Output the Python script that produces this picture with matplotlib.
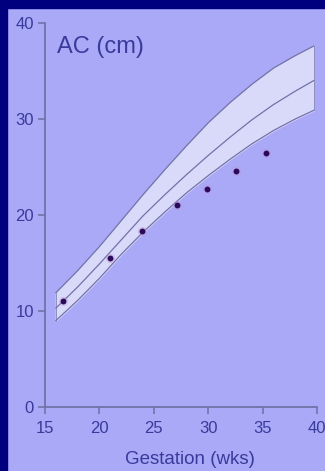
import matplotlib.pyplot as plt
from matplotlib.patches import Rectangle

# reference curve (weeks of gestation)
weeks = [16, 18, 20, 22, 24, 26, 28, 30, 32, 34, 36, 38, 39.7]
upper = [11.9, 14.2, 16.7, 19.4, 22.1, 24.7, 27.2, 29.6, 31.7, 33.6, 35.3, 36.6, 37.6]
mean = [10.3, 12.5, 14.9, 17.4, 19.9, 22.1, 24.2, 26.2, 28.1, 29.9, 31.5, 32.9, 34.0]
lower = [9.0, 11.1, 13.4, 15.9, 18.2, 20.3, 22.3, 24.1, 25.8, 27.4, 28.8, 30.0, 30.9]

# measured points
ga = [16.7, 21.0, 23.9, 27.1, 29.9, 32.6, 35.3]
ac = [11.0, 15.5, 18.3, 21.0, 22.7, 24.6, 26.5]

bg = '#a9a9f7'
band = '#d9d9f9'
line_col = '#7272a8'
text_col = '#3a3a9c'
border = '#00007e'

plt.rcParams['font.family'] = ['Liberation Sans', 'DejaVu Sans']

fig = plt.figure(figsize=(3.25, 4.71), dpi=100, facecolor=bg)
W, H = 325, 471
# dark frame on left and top
fig.patches.append(Rectangle((0, 0), 7 / W, 1, transform=fig.transFigure,
                             color=border, zorder=0))
fig.patches.append(Rectangle((0, 1 - 8 / H), 1, 8 / H, transform=fig.transFigure,
                             color=border, zorder=0))

ax = fig.add_axes([45 / W, 1 - 407 / H, (317 - 45) / W, (407 - 23) / H])
ax.set_facecolor(bg)
ax.patch.set_alpha(0)

ax.fill_between(weeks, lower, upper, color=band, zorder=1)
ax.plot(weeks, upper, color=line_col, lw=0.9, zorder=2)
ax.plot(weeks, lower, color=line_col, lw=0.9, zorder=2)
ax.plot(weeks, mean, color=line_col, lw=0.9, zorder=2)
ax.plot([weeks[-1], weeks[-1]], [lower[-1], upper[-1]], color=line_col, lw=0.5, zorder=2)
ax.plot([weeks[0], weeks[0]], [lower[0], upper[0]], color=line_col, lw=0.5, zorder=2)

ax.scatter(ga, ac, s=45, color='#c090d0', alpha=0.35, linewidths=0, zorder=3)
ax.scatter(ga, ac, s=18, color='#2a0a5a', linewidths=0, zorder=4)

ax.set_xlim(15, 40)
ax.set_ylim(0, 40)
ax.set_xticks([15, 20, 25, 30, 35, 40])
ax.set_yticks([0, 10, 20, 30, 40])

for s in ['top', 'right']:
    ax.spines[s].set_visible(False)
for s in ['left', 'bottom']:
    ax.spines[s].set_color(line_col)
    ax.spines[s].set_linewidth(1.3)
ax.tick_params(colors=line_col, labelcolor=text_col, labelsize=12, length=5, width=1.2)
ax.tick_params(axis='x', pad=5)
ax.tick_params(axis='y', pad=3)

ax.text(16.1, 37.5, 'AC (cm)', fontsize=17, color=text_col, va='center', ha='left')
fig.text(190 / W, 1 - 460 / H, 'Gestation (wks)', fontsize=13.5, color=text_col,
         ha='center', va='center')

fig.savefig('out.png', dpi=100, facecolor=bg)
